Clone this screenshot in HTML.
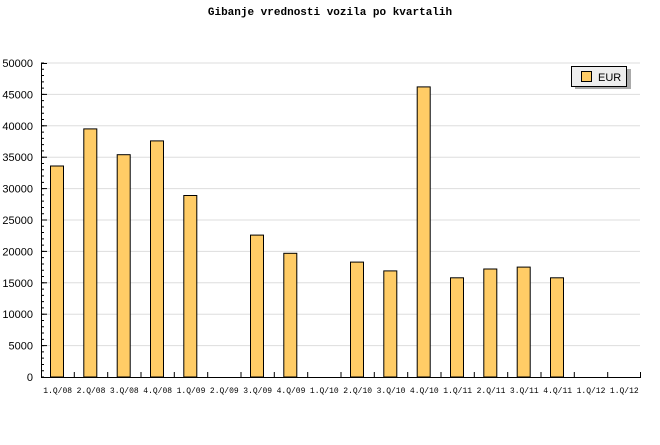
<!DOCTYPE html><html><head><style>body{margin:0;background:#fff}</style></head><body>
<svg width="660" height="440" xmlns="http://www.w3.org/2000/svg" font-family="Liberation Mono, DejaVu Sans Mono, monospace">
<text x="330" y="15" text-anchor="middle" font-size="11" font-weight="bold">Gibanje vrednosti vozila po kvartalih</text>
<g stroke="#ddd">
<line x1="41" x2="640" y1="345.6" y2="345.6"/><line x1="41" x2="640" y1="314.2" y2="314.2"/><line x1="41" x2="640" y1="282.8" y2="282.8"/><line x1="41" x2="640" y1="251.4" y2="251.4"/><line x1="41" x2="640" y1="220" y2="220"/><line x1="41" x2="640" y1="188.6" y2="188.6"/><line x1="41" x2="640" y1="157.2" y2="157.2"/><line x1="41" x2="640" y1="125.8" y2="125.8"/><line x1="41" x2="640" y1="94.4" y2="94.4"/><line x1="41" x2="640" y1="63" y2="63"/>
</g>
<g font-size="11" font-family="Liberation Sans, sans-serif" text-anchor="end">
<text x="33" y="381">0</text><text x="33" y="349.6">5000</text><text x="33" y="318.2">10000</text><text x="33" y="286.8">15000</text><text x="33" y="255.4">20000</text><text x="33" y="224">25000</text><text x="33" y="192.6">30000</text><text x="33" y="161.2">35000</text><text x="33" y="129.8">40000</text><text x="33" y="98.4">45000</text><text x="33" y="67">50000</text>
</g>
<line x1="42.5" x2="42.5" y1="62.5" y2="378" stroke="#000" stroke-width="3" stroke-dasharray="1 5.28"/>
<g stroke="#000">
<line x1="41" x2="47" y1="345.6" y2="345.6"/><line x1="41" x2="47" y1="314.2" y2="314.2"/><line x1="41" x2="47" y1="282.8" y2="282.8"/><line x1="41" x2="47" y1="251.4" y2="251.4"/><line x1="41" x2="47" y1="220" y2="220"/><line x1="41" x2="47" y1="188.6" y2="188.6"/><line x1="41" x2="47" y1="157.2" y2="157.2"/><line x1="41" x2="47" y1="125.8" y2="125.8"/><line x1="41" x2="47" y1="94.4" y2="94.4"/><line x1="41" x2="47" y1="63.5" y2="63.5"/>
</g>
<g fill="#ffcc66" stroke="#000">
<rect x="50.5" y="166" width="13" height="211"/>
<rect x="83.8" y="128.9" width="13" height="248.1"/>
<rect x="117.2" y="154.7" width="13" height="222.3"/>
<rect x="150.5" y="140.9" width="13" height="236.1"/>
<rect x="183.8" y="195.5" width="13" height="181.5"/>
<rect x="250.5" y="235.1" width="13" height="141.9"/>
<rect x="283.8" y="253.3" width="13" height="123.7"/>
<rect x="350.5" y="262.1" width="13" height="114.9"/>
<rect x="383.8" y="270.9" width="13" height="106.1"/>
<rect x="417.2" y="86.9" width="13" height="290.1"/>
<rect x="450.5" y="277.8" width="13" height="99.2"/>
<rect x="483.8" y="269" width="13" height="108"/>
<rect x="517.2" y="267.1" width="13" height="109.9"/>
<rect x="550.5" y="277.8" width="13" height="99.2"/>
</g>
<g stroke="#000">
<line x1="74.3" x2="74.3" y1="372" y2="377"/><line x1="107.7" x2="107.7" y1="372" y2="377"/><line x1="141" x2="141" y1="372" y2="377"/><line x1="174.3" x2="174.3" y1="372" y2="377"/><line x1="207.7" x2="207.7" y1="372" y2="377"/><line x1="241" x2="241" y1="372" y2="377"/><line x1="274.3" x2="274.3" y1="372" y2="377"/><line x1="307.7" x2="307.7" y1="372" y2="377"/><line x1="341" x2="341" y1="372" y2="377"/><line x1="374.3" x2="374.3" y1="372" y2="377"/><line x1="407.7" x2="407.7" y1="372" y2="377"/><line x1="441" x2="441" y1="372" y2="377"/><line x1="474.3" x2="474.3" y1="372" y2="377"/><line x1="507.7" x2="507.7" y1="372" y2="377"/><line x1="541" x2="541" y1="372" y2="377"/><line x1="574.3" x2="574.3" y1="372" y2="377"/><line x1="607.7" x2="607.7" y1="372" y2="377"/><line x1="640.5" x2="640.5" y1="372" y2="377"/>
<line x1="41.5" x2="41.5" y1="63" y2="378"/><line x1="41" x2="641" y1="377.5" y2="377.5"/>
</g>
<g font-size="8" text-anchor="middle">
<text x="57.7" y="393">1.Q/08</text><text x="91" y="393">2.Q/08</text><text x="124.3" y="393">3.Q/08</text><text x="157.7" y="393">4.Q/08</text><text x="191" y="393">1.Q/09</text><text x="224.3" y="393">2.Q/09</text><text x="257.7" y="393">3.Q/09</text><text x="291" y="393">4.Q/09</text><text x="324.3" y="393">1.Q/10</text><text x="357.7" y="393">2.Q/10</text><text x="391" y="393">3.Q/10</text><text x="424.3" y="393">4.Q/10</text><text x="457.7" y="393">1.Q/11</text><text x="491" y="393">2.Q/11</text><text x="524.3" y="393">3.Q/11</text><text x="557.7" y="393">4.Q/11</text><text x="591" y="393">1.Q/12</text><text x="624.3" y="393">1.Q/12</text>
</g>
<rect x="575" y="69" width="56" height="20" fill="#aaa"/>
<rect x="571.5" y="66.5" width="55" height="20" fill="#eee" stroke="#000"/>
<rect x="581.5" y="71.5" width="10" height="10" fill="#ffcc66" stroke="#000"/>
<text x="598" y="81" font-size="11" font-family="Liberation Sans, sans-serif">EUR</text>
</svg></body></html>
